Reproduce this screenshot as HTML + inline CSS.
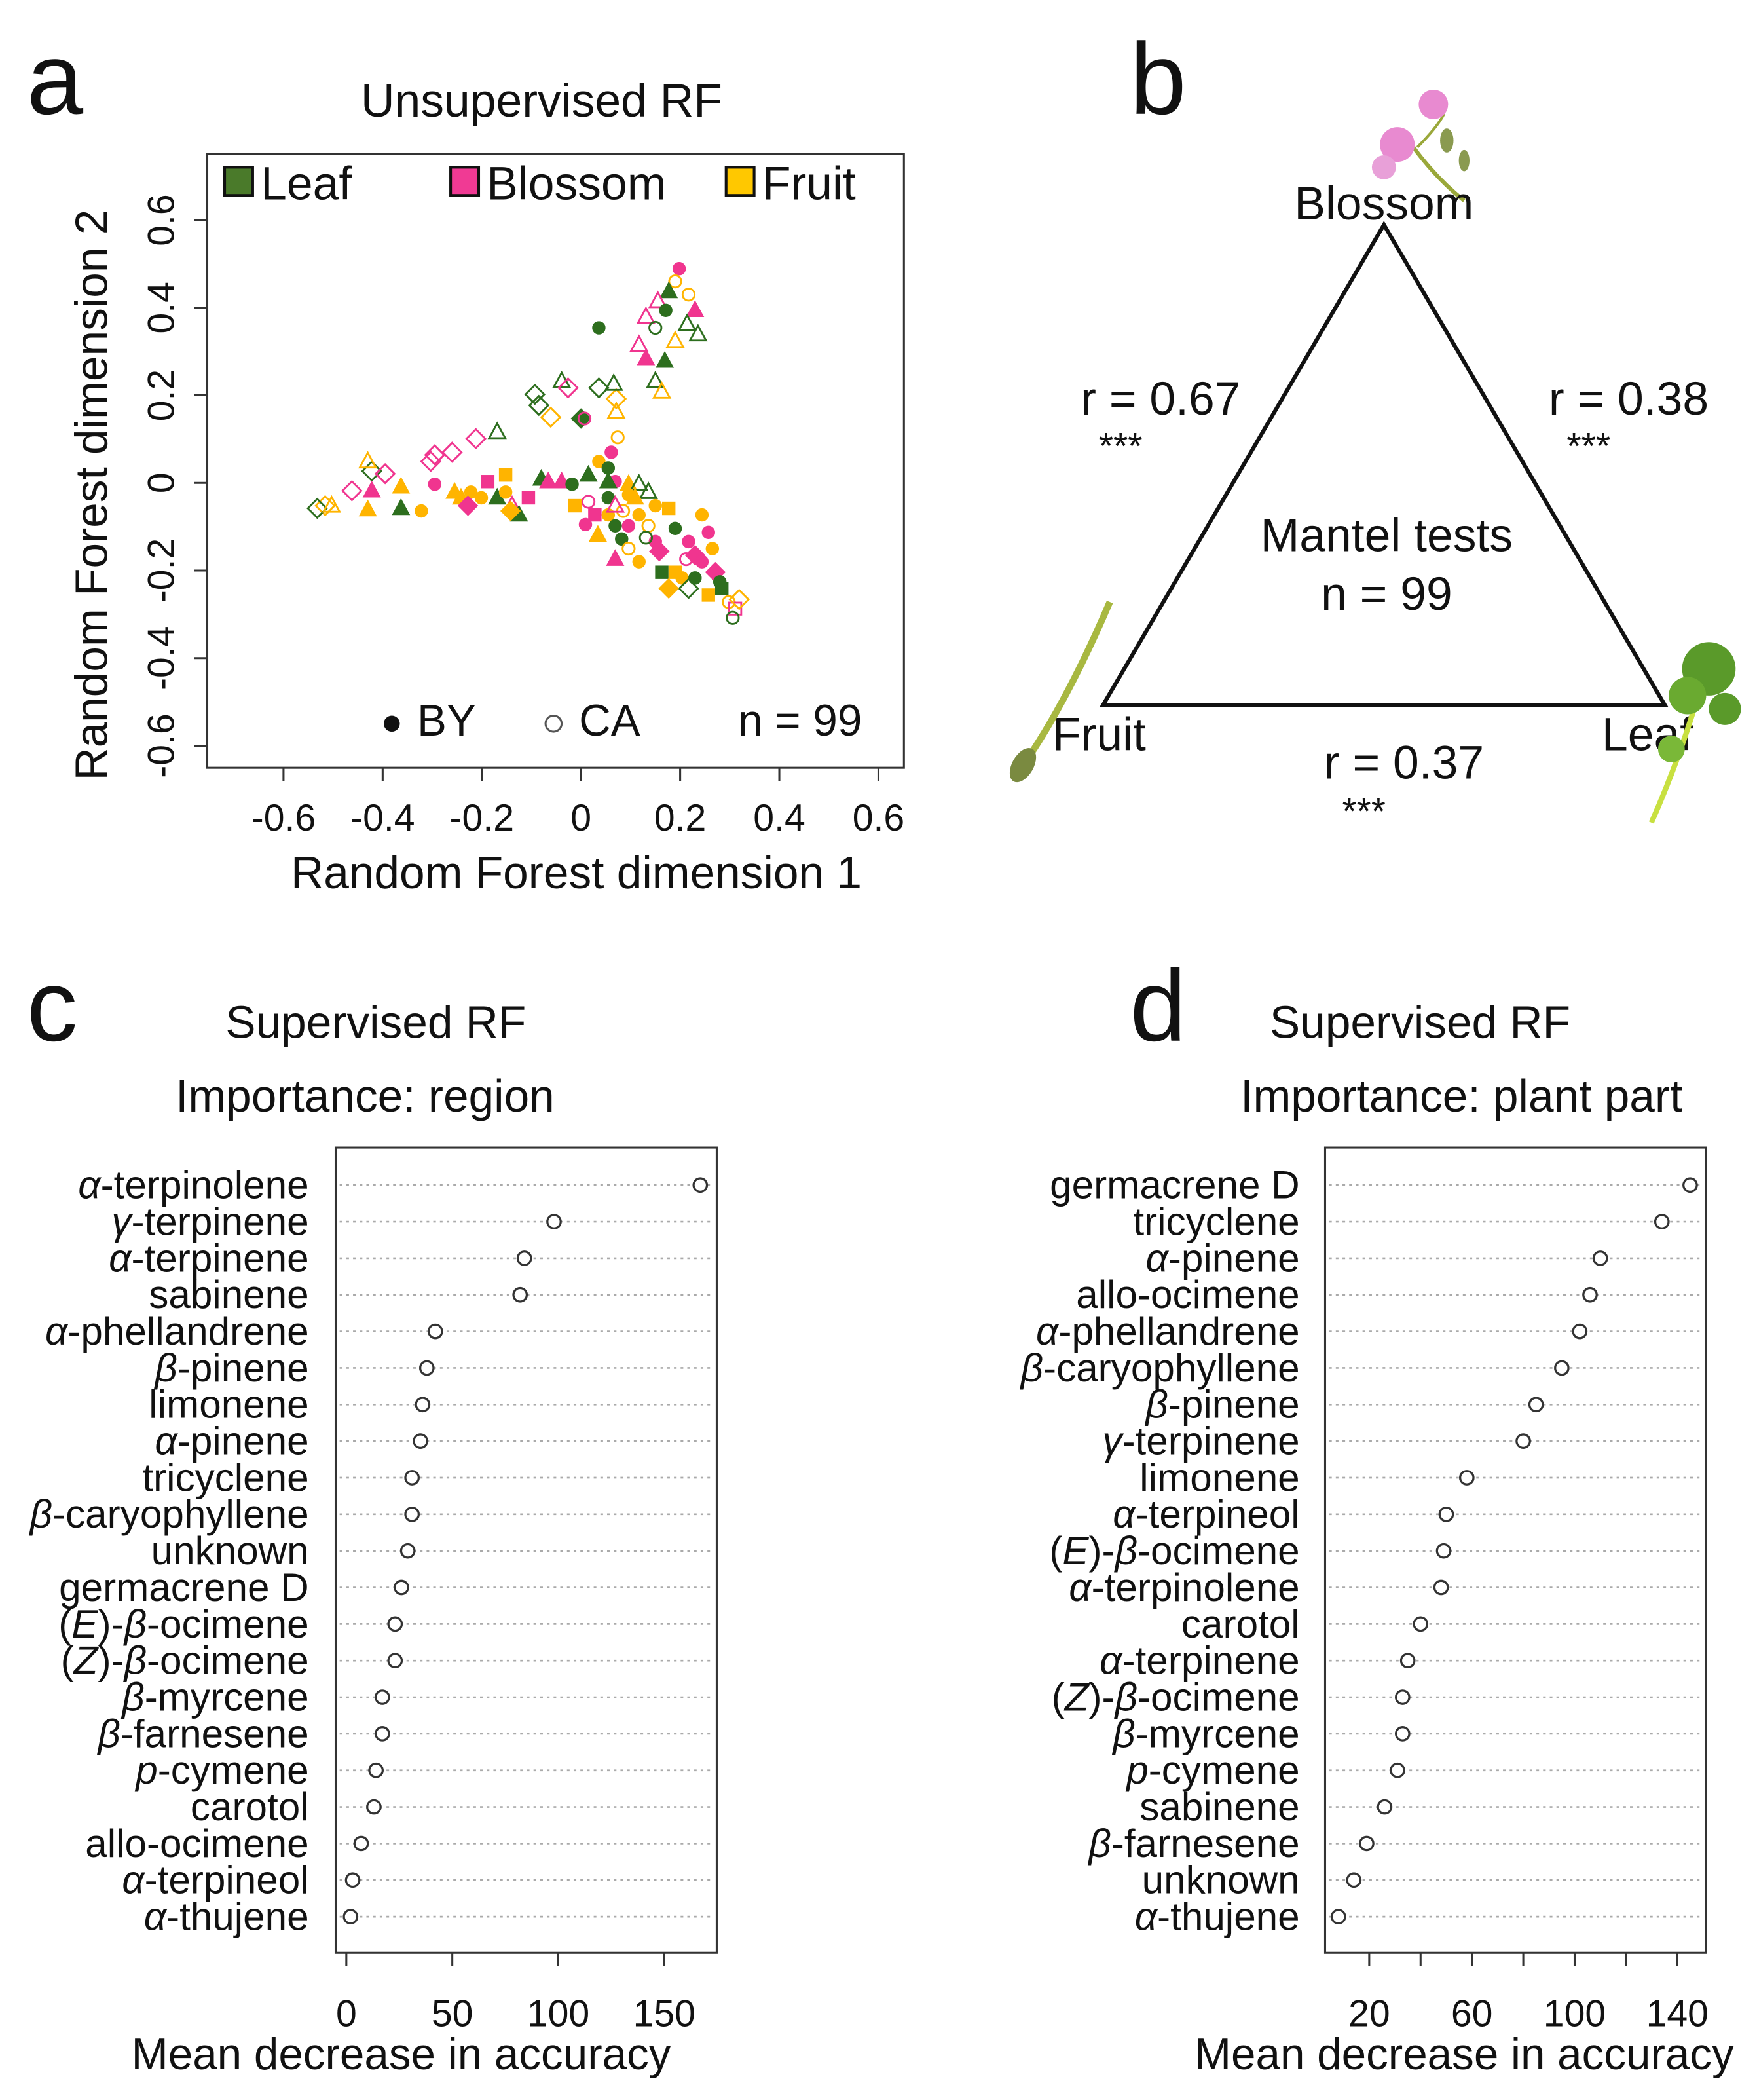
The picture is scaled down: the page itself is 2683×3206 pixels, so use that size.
<!DOCTYPE html>
<html><head><meta charset="utf-8"><style>
html,body{margin:0;padding:0;background:#fff}
svg{display:block}
text{font-family:"Liberation Sans",sans-serif;fill:#111}
</style></head><body>
<svg id="fig" xmlns="http://www.w3.org/2000/svg" width="2683" height="3206" viewBox="0 0 1314 1570">
<g>
<text x="20" y="85" font-size="76">a</text>
<text x="405" y="87" font-size="35" text-anchor="middle">Unsupervised RF</text>
<rect x="155" y="115" width="521" height="459" fill="none" stroke="#333" stroke-width="1.5"/>
<g id="aAxes"></g><g id="aPts"></g>
<g>
<rect x="168" y="125" width="21" height="21" fill="#4a7a2a" stroke="#111" stroke-width="2"/><text x="195" y="149" font-size="35">Leaf</text>
<rect x="337" y="125" width="21" height="21" fill="#f03a94" stroke="#111" stroke-width="2"/><text x="364" y="149" font-size="35">Blossom</text>
<rect x="543" y="125" width="21" height="21" fill="#ffc800" stroke="#111" stroke-width="2"/><text x="570" y="149" font-size="35">Fruit</text>
</g>
<g>
<circle cx="293" cy="541" r="6" fill="#111"/><text x="312" y="550" font-size="33">BY</text>
<circle cx="414" cy="541" r="6" fill="none" stroke="#555" stroke-width="1.5"/><text x="433" y="550" font-size="33">CA</text>
<text x="552" y="550" font-size="33">n = 99</text>
</g>
<text x="431" y="664" font-size="34" text-anchor="middle">Random Forest dimension 1</text>
<text x="0" y="0" font-size="34" text-anchor="middle" transform="translate(80,370) rotate(-90)">Random Forest dimension 2</text>
</g>
<g>
<text x="845" y="85" font-size="76">b</text>
<g>
<path d="M1050,100 Q1070,130 1095,150" stroke="#9aa83a" stroke-width="3" fill="none"/>
<path d="M1060,110 Q1075,95 1080,85" stroke="#9aa83a" stroke-width="2" fill="none"/>
<circle cx="1072" cy="78" r="11" fill="#e88ad0"/><circle cx="1045" cy="108" r="13" fill="#e88ad0"/><circle cx="1035" cy="125" r="9" fill="#e8a0d8"/>
<ellipse cx="1082" cy="105" rx="5" ry="9" fill="#8a9a50"/><ellipse cx="1095" cy="120" rx="4" ry="8" fill="#8a9a50"/>
</g>
<path d="M1035,168 L825,527 L1245,527 Z" fill="none" stroke="#111" stroke-width="3"/>
<text x="1035" y="164" font-size="35" text-anchor="middle">Blossom</text>
<text x="868" y="310" font-size="35" text-anchor="middle">r = 0.67</text>
<text x="838" y="343" font-size="28" text-anchor="middle">***</text>
<text x="1218" y="310" font-size="35" text-anchor="middle">r = 0.38</text>
<text x="1188" y="343" font-size="28" text-anchor="middle">***</text>
<text x="1037" y="412" font-size="35" text-anchor="middle">Mantel tests</text>
<text x="1037" y="456" font-size="35" text-anchor="middle">n = 99</text>
<text x="822" y="561" font-size="35" text-anchor="middle">Fruit</text>
<text x="1232" y="561" font-size="35" text-anchor="middle">Leaf</text>
<text x="1050" y="582" font-size="35" text-anchor="middle">r = 0.37</text>
<text x="1020" y="616" font-size="28" text-anchor="middle">***</text>
<g>
<path d="M830,450 Q800,520 770,565" stroke="#a8b840" stroke-width="5" fill="none"/>
<ellipse cx="765" cy="572" rx="8" ry="14" fill="#7a8a40" transform="rotate(30 765 572)"/>
</g>
<g>
<path d="M1270,520 Q1255,570 1235,615" stroke="#c8e040" stroke-width="4" fill="none"/>
<circle cx="1278" cy="500" r="20" fill="#5a9a2a"/><circle cx="1262" cy="520" r="14" fill="#6aaa30"/><circle cx="1290" cy="530" r="12" fill="#5a9a2a"/><circle cx="1250" cy="560" r="10" fill="#7ab838"/>
</g>
</g>
<g>
<text x="20" y="778" font-size="76">c</text>
<text x="281" y="776" font-size="34" text-anchor="middle">Supervised RF</text>
<text x="273" y="831" font-size="34" text-anchor="middle">Importance: region</text>
<rect x="251" y="858" width="285" height="602" fill="none" stroke="#333" stroke-width="1.5"/>
<g id="cG"></g>
<text x="300" y="1547" font-size="33" text-anchor="middle">Mean decrease in accuracy</text>
</g>
<g>
<text x="845" y="778" font-size="76">d</text>
<text x="1062" y="776" font-size="34" text-anchor="middle">Supervised RF</text>
<text x="1093" y="831" font-size="34" text-anchor="middle">Importance: plant part</text>
<rect x="991" y="858" width="285" height="602" fill="none" stroke="#333" stroke-width="1.5"/>
<g id="dG"></g>
<text x="1095" y="1547" font-size="33" text-anchor="middle">Mean decrease in accuracy</text>
</g>
</svg>
<script>
const NS="http://www.w3.org/2000/svg";
// ---- panel a data ----
const aXTicks=[-0.6,-0.4,-0.2,0,0.2,0.4,0.6];
const aXTickLabels=["-0.6","-0.4","-0.2","0","0.2","0.4","0.6"];
const aYTicks=[-0.6,-0.4,-0.2,0,0.2,0.4,0.6];
const aYTickLabels=["-0.6","-0.4","-0.2","0","0.2","0.4","0.6"];
const ptX=[.198,.19,.177,.217,.155,.23,.171,.131,.214,.236,.036,.15,.19,.117,.131,.169,.15,.163,.071,.036,.066,.071,-.039,-.026,-.093,-.085,-.061,0,.007,.074,-.169,-.212,-.26,-.295,-.303,-.422,-.43,-.395,-.462,-.422,-.363,-.43,-.363,-.322,-.516,-.532,-.503,-.295,-.255,-.242,-.222,-.228,-.201,-.188,-.169,-.152,-.139,-.125,-.142,-.08,-.066,-.039,-.018,.015,.036,.061,.055,.069,.096,.117,.136,-.012,.015,.028,.055,.069,.096,.082,.117,.15,.177,.136,.15,.19,.158,.117,.163,.19,.217,.212,.23,.244,.257,.265,.204,.23,.257,.284,.298,.311,.319,.306,.217,.271,.177,.096,.055,-.106,-.152,.055,.109,.034,.069,.096,.131,.009,.085,.244,.28,.069];
const ptY=[.489,.46,.437,.43,.415,.394,.394,.379,.363,.339,.354,.354,.324,.315,.284,.278,.232,.208,.192,.217,.226,.162,.232,.217,.202,.177,.15,.147,.147,.104,.116,.101,.07,.064,.049,.027,.049,.021,-.018,-.018,-.009,-.061,-.058,-.064,-.052,-.058,-.052,-.003,-.021,-.034,-.021,-.052,-.034,.003,-.034,-.021,-.052,-.073,-.064,.009,.003,.003,-.003,.018,.049,.07,.034,.003,-.003,-.003,-.021,-.052,-.043,-.073,-.073,-.098,-.098,-.128,-.073,-.052,-.058,-.098,-.134,-.104,-.156,-.18,-.204,-.204,-.134,-.174,-.165,-.073,-.113,-.15,-.217,-.217,-.256,-.241,-.272,-.287,-.266,-.308,-.241,-.204,-.241,-.027,-.034,-.034,.018,.003,-.034,-.119,-.174,-.15,-.125,-.095,-.064,-.18,-.226,-.052];
const ptPart="BFLFBBLBLLLLFBBLLFFLLFLBLLFLBFLBBBBLFBBBFFLFFLFBFFFBFBLFBLFLBBLLFBLBFLLFBBFLBLFFFFBLBFLFBBBFBFFLFLFBFLLBFFLBFLFFBFLBFBLBL";
const ptFill="10100110001000110000000000010000000000011111000111111111011111111111100101111111101111111011111111000001111111111001011";
const ptShape="cctcttctttccttttttddtttdddddcctdddddtddttttcddtcttcdcstcttdtttctcccctttscsccccccscccdcssccdcccccsscsdcdddccssttttccccccttdct";
</script>
<script>
const colors={L:"#2d6e1e",B:"#f0358f",F:"#ffb400"};
const ax=v=>434.5+v*370.8, ay=v=>361-v*327.5;
function mk(tag,attrs,parent){const e=document.createElementNS(NS,tag);for(const k in attrs)e.setAttribute(k,attrs[k]);parent.appendChild(e);return e;}
const aA=document.getElementById('aAxes');
aXTicks.forEach((t,i)=>{
  const l=mk('line',{x1:ax(t),x2:ax(t),y1:574,y2:584,stroke:'#333','stroke-width':1.5},aA);
  
  
  const tx=mk('text',{x:ax(t),y:621,'font-size':28,'text-anchor':'middle'},aA);tx.textContent=aXTickLabels[i];
  
  
});
aYTicks.forEach((t,i)=>{
  const l=mk('line',{x1:145,x2:155,y1:ay(t),y2:ay(t),stroke:'#333','stroke-width':1.5},aA);
  
  
  const tx=mk('text',{x:0,y:0,'font-size':28,'text-anchor':'middle',transform:`translate(130,${ay(t)}) rotate(-90)`},aA);tx.textContent=aYTickLabels[i];
  
  
});
const aP=document.getElementById('aPts');
for(let i=0;i<ptX.length;i++){
  const x=ax(ptX[i]),y=ay(ptY[i]),c=colors[ptPart[i]],f=ptFill[i]==='1';
  const st=f?{fill:c,stroke:c,'stroke-width':1}:{fill:'none',stroke:c,'stroke-width':1.4};
  const s=ptShape[i];let e;
  if(s==='c')e=mk('circle',Object.assign({cx:x,cy:y,r:4.5},st),aP);
  else if(s==='s')e=mk('rect',Object.assign({x:x-4.5,y:y-4.5,width:9,height:9},st),aP);
  else if(s==='t')e=mk('path',Object.assign({d:`M${x},${y-6.5}L${x-6},${y+4.5}L${x+6},${y+4.5}Z`},st),aP);
  else e=mk('path',Object.assign({d:`M${x},${y-7}L${x+7},${y}L${x},${y+7}L${x-7},${y}Z`},st),aP);
  
  
}
</script>
<script>
// ---- panel c data ----
const cLabels=["*α*-terpinolene","*γ*-terpinene","*α*-terpinene","sabinene","*α*-phellandrene","*β*-pinene","limonene","*α*-pinene","tricyclene","*β*-caryophyllene","unknown","germacrene D","(*E*)-*β*-ocimene","(*Z*)-*β*-ocimene","*β*-myrcene","*β*-farnesene","*p*-cymene","carotol","allo-ocimene","*α*-terpineol","*α*-thujene"];
const cValues=[167,98,84,82,42,38,36,35,31,31,29,26,23,23,17,17,14,13,7,3,2];
const cTicks=[0,50,100,150];
// ---- panel d data ----
const dLabels=["germacrene D","tricyclene","*α*-pinene","allo-ocimene","*α*-phellandrene","*β*-caryophyllene","*β*-pinene","*γ*-terpinene","limonene","*α*-terpineol","(*E*)-*β*-ocimene","*α*-terpinolene","carotol","*α*-terpinene","(*Z*)-*β*-ocimene","*β*-myrcene","*p*-cymene","sabinene","*β*-farnesene","unknown","*α*-thujene"];
const dValues=[145,134,110,106,102,95,85,80,58,50,49,48,40,35,33,33,31,26,19,14,8];
const dTicks=[20,40,60,80,100,120,140];
const dTickLabels=["20","","60","","100","","140"];
</script>
<script>
function dotchart(g,labels,values,ticks,tickLabels,x0,x1,labelX,sx){
  const rowY=i=>886+i*27.35;
  labels.forEach((lab,i)=>{
    const y=rowY(i);
    const ln=mk('line',{x1:x0+3,x2:x1-3,y1:y,y2:y,stroke:'#aaa','stroke-width':1.3,'stroke-dasharray':'2,3'},g);
    
    
    const t=mk('text',{x:labelX,y:y+10,'font-size':29.5,'text-anchor':'end'},g);
    lab.split('*').forEach((p,k)=>{if(!p)return;const ts=mk('tspan',k%2?{'font-style':'italic'}:{},t);ts.textContent=p;});
    
    
    const c=mk('circle',{cx:sx(values[i]),cy:y,r:5,fill:'#fff',stroke:'#333','stroke-width':1.6},g);
    
    
  });
  ticks.forEach((tv,i)=>{
    const l=mk('line',{x1:sx(tv),x2:sx(tv),y1:1460,y2:1470,stroke:'#333','stroke-width':1.5},g);
    
    
    if(tickLabels[i]){const t=mk('text',{x:sx(tv),y:1515,'font-size':28,'text-anchor':'middle',fill:'#222'},g);t.textContent=tickLabels[i];
    
    }
  });
}
dotchart(document.getElementById('cG'),cLabels,cValues,cTicks,cTicks.map(String),251,536,231,v=>259+v*1.585);
dotchart(document.getElementById('dG'),dLabels,dValues,dTicks,dTickLabels,991,1276,972,v=>985.6+v*1.92);
</script>
</body></html>
